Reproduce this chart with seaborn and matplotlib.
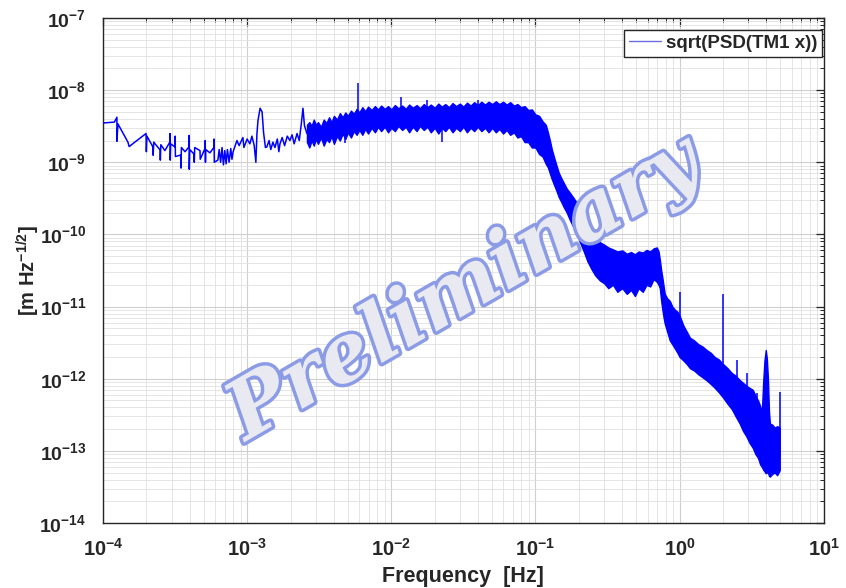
import numpy as np
import pandas as pd
import seaborn as sns
import matplotlib
matplotlib.use("Agg")
import matplotlib.pyplot as plt
from matplotlib import ticker
import matplotlib.patheffects as pe

# ---------------- data ----------------
# low-frequency part: individual noisy points (Hz, m/sqrt(Hz))
low_freq = [1.00e-4, 1.20e-4, 1.25e-4, 1.25e-4, 1.27e-4, 1.49e-4, 1.52e-4, 1.72e-4,
            1.99e-4, 2.00e-4, 2.02e-4, 2.22e-4, 2.23e-4, 2.25e-4, 2.49e-4, 2.50e-4,
            2.52e-4, 2.69e-4, 2.91e-4, 2.92e-4, 2.93e-4, 2.95e-4, 3.16e-4, 3.17e-4,
            3.18e-4, 3.47e-4, 3.48e-4, 3.50e-4, 3.71e-4, 3.95e-4, 3.96e-4, 3.97e-4,
            4.00e-4, 4.28e-4, 4.30e-4, 4.33e-4, 4.71e-4, 4.73e-4, 5.10e-4, 5.12e-4,
            5.14e-4, 5.16e-4, 5.52e-4, 5.88e-4, 5.90e-4, 5.92e-4, 6.27e-4, 6.40e-4,
            6.55e-4, 6.70e-4, 6.85e-4, 7.00e-4, 7.15e-4, 7.30e-4, 7.50e-4, 7.70e-4,
            7.85e-4, 8.00e-4, 8.50e-4, 8.80e-4, 9.35e-4, 9.50e-4, 1.00e-3, 1.045e-3,
            1.08e-3, 1.12e-3, 1.15e-3, 1.17e-3, 1.19e-3, 1.23e-3, 1.27e-3, 1.30e-3,
            1.34e-3, 1.37e-3, 1.42e-3, 1.46e-3, 1.51e-3, 1.56e-3, 1.62e-3, 1.66e-3,
            1.69e-3, 1.75e-3, 1.82e-3, 1.90e-3, 1.98e-3, 2.05e-3, 2.12e-3, 2.22e-3,
            2.30e-3, 2.38e-3, 2.44e-3, 2.50e-3, 2.60e-3]
low_asd = [3.5e-9, 3.6e-9, 4.2e-9, 1.95e-9, 3.4e-9, 1.9e-9, 1.65e-9, 2.0e-9,
           2.5e-9, 1.4e-9, 2.3e-9, 1.63e-9, 1.25e-9, 1.9e-9, 1.48e-9, 1.07e-9,
           1.75e-9, 1.45e-9, 1.9e-9, 2.5e-9, 1.07e-9, 1.8e-9, 1.63e-9, 2.3e-9,
           1.2e-9, 1.26e-9, 0.83e-9, 1.6e-9, 1.4e-9, 1.63e-9, 2.35e-9, 0.8e-9,
           1.5e-9, 1.3e-9, 1.0e-9, 1.6e-9, 1.45e-9, 1.1e-9, 1.55e-9, 2.0e-9,
           1.0e-9, 1.5e-9, 1.35e-9, 1.6e-9, 2.1e-9, 1.0e-9, 1.07e-9, 1.5e-9,
           1.0e-9, 1.6e-9, 0.92e-9, 1.45e-9, 0.95e-9, 1.5e-9, 1.0e-9, 1.55e-9,
           1.1e-9, 1.4e-9, 2.0e-9, 1.7e-9, 2.2e-9, 1.6e-9, 2.1e-9, 1.8e-9,
           2.3e-9, 1.7e-9, 1.0e-9, 2.5e-9, 3.8e-9, 5.6e-9, 5.0e-9, 2.6e-9,
           1.6e-9, 1.63e-9, 2.0e-9, 1.5e-9, 1.9e-9, 1.6e-9, 2.1e-9, 1.4e-9,
           1.8e-9, 2.2e-9, 1.7e-9, 2.3e-9, 2.0e-9, 2.4e-9, 1.8e-9, 2.5e-9,
           2.0e-9, 3.5e-9, 5.6e-9, 3.2e-9, 2.5e-9]

# dense part: lower / upper edge of the noise band
band_freq = [2.60e-3, 2.70e-3, 2.80e-3, 2.90e-3, 3.00e-3, 3.10e-3, 3.25e-3, 3.40e-3,
             3.55e-3, 3.70e-3, 3.85e-3, 4.00e-3, 4.20e-3, 4.40e-3, 4.60e-3, 4.80e-3,
             5.00e-3, 5.25e-3, 5.50e-3, 5.75e-3, 6.00e-3, 6.30e-3, 6.60e-3, 6.90e-3,
             7.30e-3, 7.70e-3, 8.10e-3, 8.50e-3, 9.00e-3, 9.50e-3, 1.00e-2, 1.06e-2,
             1.12e-2, 1.19e-2, 1.26e-2, 1.33e-2, 1.41e-2, 1.50e-2, 1.58e-2, 1.68e-2,
             1.78e-2, 1.88e-2, 2.00e-2, 2.12e-2, 2.24e-2, 2.37e-2, 2.51e-2, 2.66e-2,
             2.82e-2, 2.99e-2, 3.16e-2, 3.35e-2, 3.55e-2, 3.76e-2, 3.98e-2, 4.22e-2,
             4.47e-2, 4.73e-2, 5.01e-2, 5.31e-2, 5.62e-2, 5.96e-2, 6.31e-2, 6.68e-2,
             7.08e-2, 7.50e-2, 7.94e-2, 8.41e-2, 8.91e-2, 9.44e-2, 0.100, 0.106,
             0.112, 0.118, 0.122, 0.126, 0.130, 0.135, 0.140, 0.145,
             0.150, 0.157, 0.165, 0.173, 0.182, 0.190, 0.200, 0.215,
             0.230, 0.245, 0.260, 0.280, 0.300, 0.320, 0.345, 0.370,
             0.400, 0.430, 0.460, 0.490, 0.520, 0.555, 0.590, 0.625,
             0.660, 0.695, 0.715, 0.729, 0.745, 0.760, 0.775, 0.789,
             0.820, 0.855, 0.890, 0.930, 0.965, 1.00, 1.06, 1.12,
             1.18, 1.26, 1.35, 1.44, 1.54, 1.64, 1.75, 1.87,
             2.00, 2.15, 2.30, 2.45, 2.61, 2.75, 2.90, 3.05,
             3.22, 3.36, 3.50, 3.62, 3.72, 3.80, 3.88, 3.96,
             4.03, 4.10, 4.17, 4.23, 4.40, 4.57, 4.75, 4.95]
band_lo = [1.9e-9, 1.6e-9, 2.0e-9, 1.7e-9, 2.1e-9, 1.8e-9, 2.2e-9, 1.7e-9,
           2.1e-9, 1.9e-9, 2.3e-9, 1.8e-9, 2.3e-9, 2.0e-9, 2.5e-9, 2.1e-9,
           2.6e-9, 2.2e-9, 2.7e-9, 2.4e-9, 2.8e-9, 2.4e-9, 2.9e-9, 2.5e-9,
           3.0e-9, 2.6e-9, 3.1e-9, 2.7e-9, 3.1e-9, 2.6e-9, 3.0e-9, 2.7e-9,
           3.2e-9, 2.8e-9, 3.1e-9, 2.6e-9, 3.1e-9, 2.7e-9, 3.2e-9, 2.8e-9,
           3.1e-9, 2.6e-9, 3.0e-9, 2.5e-9, 3.0e-9, 2.7e-9, 3.1e-9, 2.6e-9,
           3.0e-9, 2.7e-9, 3.1e-9, 2.6e-9, 3.0e-9, 2.7e-9, 3.1e-9, 2.7e-9,
           3.0e-9, 2.6e-9, 3.0e-9, 2.6e-9, 2.9e-9, 2.5e-9, 2.8e-9, 2.4e-9,
           2.6e-9, 2.2e-9, 2.3e-9, 1.9e-9, 1.9e-9, 1.6e-9, 1.6e-9, 1.3e-9,
           1.2e-9, 9.5e-10, 8.5e-10, 7.0e-10, 5.8e-10, 4.8e-10, 4.0e-10, 3.3e-10,
           2.9e-10, 2.4e-10, 2.0e-10, 1.6e-10, 1.3e-10, 1.1e-10, 8.5e-11, 6.0e-11,
           4.2e-11, 3.3e-11, 2.7e-11, 2.3e-11, 2.1e-11, 1.8e-11, 2.0e-11, 1.6e-11,
           1.8e-11, 1.5e-11, 1.7e-11, 1.4e-11, 1.8e-11, 1.6e-11, 2.0e-11, 1.9e-11,
           2.4e-11, 2.2e-11, 2.0e-11, 1.8e-11, 1.2e-11, 9.0e-12, 7.0e-12, 5.8e-12,
           4.5e-12, 3.4e-12, 3.0e-12, 2.6e-12, 2.3e-12, 2.0e-12, 1.8e-12, 1.6e-12,
           1.4e-12, 1.3e-12, 1.15e-12, 1.05e-12, 9.5e-13, 8.5e-13, 7.5e-13, 6.5e-13,
           5.5e-13, 4.5e-13, 3.8e-13, 3.0e-13, 2.4e-13, 1.9e-13, 1.6e-13, 1.3e-13,
           1.1e-13, 9.0e-14, 8.0e-14, 6.5e-14, 6.0e-14, 5.5e-14, 5.2e-14, 4.9e-14,
           5.0e-14, 5.0e-14, 4.5e-14, 4.4e-14, 4.8e-14, 5.0e-14, 4.6e-14, 5.4e-14]
band_hi = [3.3e-9, 3.6e-9, 3.2e-9, 3.9e-9, 3.3e-9, 3.6e-9, 3.1e-9, 3.9e-9,
           3.5e-9, 4.2e-9, 3.6e-9, 4.4e-9, 3.9e-9, 4.8e-9, 4.2e-9, 4.9e-9,
           4.4e-9, 5.2e-9, 4.7e-9, 5.5e-9, 4.9e-9, 5.8e-9, 5.1e-9, 5.9e-9,
           5.3e-9, 6.0e-9, 5.4e-9, 6.1e-9, 5.5e-9, 6.0e-9, 5.4e-9, 6.2e-9,
           5.6e-9, 6.1e-9, 5.5e-9, 6.3e-9, 5.7e-9, 6.2e-9, 5.6e-9, 6.4e-9,
           5.8e-9, 6.3e-9, 5.7e-9, 6.5e-9, 5.9e-9, 6.4e-9, 5.8e-9, 6.6e-9,
           6.0e-9, 6.5e-9, 5.9e-9, 6.7e-9, 6.1e-9, 6.8e-9, 6.2e-9, 6.9e-9,
           6.3e-9, 6.9e-9, 6.4e-9, 7.0e-9, 6.4e-9, 6.9e-9, 6.3e-9, 6.8e-9,
           6.1e-9, 6.4e-9, 5.8e-9, 6.0e-9, 5.3e-9, 5.4e-9, 4.6e-9, 4.4e-9,
           3.7e-9, 3.3e-9, 2.6e-9, 2.0e-9, 1.5e-9, 1.15e-9, 9.0e-10, 7.2e-10,
           6.2e-10, 5.2e-10, 4.3e-10, 3.8e-10, 3.3e-10, 2.9e-10, 2.4e-10, 1.7e-10,
           1.3e-10, 1.05e-10, 9.0e-11, 7.8e-11, 7.2e-11, 6.6e-11, 6.2e-11, 5.8e-11,
           6.0e-11, 5.4e-11, 5.7e-11, 5.3e-11, 5.8e-11, 5.6e-11, 6.1e-11, 5.8e-11,
           6.4e-11, 6.6e-11, 5.8e-11, 4.5e-11, 3.2e-11, 2.5e-11, 1.9e-11, 1.5e-11,
           1.3e-11, 1.2e-11, 1.0e-11, 9.0e-12, 8.5e-12, 7.5e-12, 5.5e-12, 4.5e-12,
           3.7e-12, 3.4e-12, 3.0e-12, 2.8e-12, 2.5e-12, 2.3e-12, 2.0e-12, 1.85e-12,
           1.6e-12, 1.4e-12, 1.2e-12, 1.1e-12, 9.6e-13, 8.8e-13, 8.0e-13, 7.5e-13,
           7.0e-13, 5.8e-13, 5.0e-13, 4.2e-13, 3.4e-13, 9.0e-13, 1.8e-12, 2.5e-12,
           1.9e-12, 1.0e-12, 3.5e-13, 2.4e-13, 2.3e-13, 2.1e-13, 2.2e-13, 2.1e-13]

# narrow lines (spikes): frequency, lower end, upper end
spike_freq = [4.8e-3, 5.87e-3, 1.17e-2, 1.77e-2, 2.24e-2, 4.0e-2,
              1.0, 2.0, 2.5, 2.74, 2.92, 3.43, 4.95]
spike_bottom = [1.85e-9, 3.0e-9, 3.0e-9, 3.0e-9, 1.9e-9, 3.0e-9,
                3.0e-12, 8.0e-13, 3.0e-13, 2.0e-13, 2.0e-13, 1.5e-13, 8.0e-14]
spike_top = [3.0e-9, 1.25e-8, 8.0e-9, 7.3e-9, 3.5e-9, 7.3e-9,
             1.6e-11, 1.5e-11, 1.8e-12, 7.4e-13, 1.2e-12, 6.3e-13, 6.5e-13]

x_ticks = [1e-4, 1e-3, 1e-2, 1e-1, 1e0, 1e1]
x_tick_labels = [r'$\mathbf{10^{-4}}$', r'$\mathbf{10^{-3}}$', r'$\mathbf{10^{-2}}$',
                 r'$\mathbf{10^{-1}}$', r'$\mathbf{10^{0}}$', r'$\mathbf{10^{1}}$']
y_ticks = [1e-14, 1e-13, 1e-12, 1e-11, 1e-10, 1e-9, 1e-8, 1e-7]
y_tick_labels = [r'$\mathbf{10^{-14}}$', r'$\mathbf{10^{-13}}$', r'$\mathbf{10^{-12}}$',
                 r'$\mathbf{10^{-11}}$', r'$\mathbf{10^{-10}}$', r'$\mathbf{10^{-9}}$',
                 r'$\mathbf{10^{-8}}$', r'$\mathbf{10^{-7}}$']
series_label = 'sqrt(PSD(TM1 x))'
x_label = 'Frequency  [Hz]'
y_label = r'[m Hz$^{\mathbf{-1/2}}$]'
watermark = 'Preliminary'

# ---------------- style ----------------
sns.set_theme(style='white')
plt.rcParams.update({
    'font.family': ['Liberation Sans', 'DejaVu Sans'],
    'font.weight': 'bold',
    'mathtext.fontset': 'custom',
    'mathtext.rm': 'Liberation Sans:bold',
    'mathtext.bf': 'Liberation Sans:bold',
    'mathtext.it': 'Liberation Sans:bold',
    'mathtext.sf': 'Liberation Sans:bold',
    'axes.edgecolor': '#262626',
    'axes.linewidth': 1.0,
})

fig = plt.figure(figsize=(8.46, 5.88), dpi=100)
ax = fig.add_axes([0.1217, 0.1105, 0.852, 0.859])

blue = '#0000ff'
low_df = pd.DataFrame({'freq': low_freq, 'asd': low_asd})
sns.lineplot(data=low_df, x='freq', y='asd', sort=False, estimator=None,
             color=blue, lw=1.1, ax=ax, label=series_label, zorder=3)
ax.fill_between(band_freq, band_lo, band_hi, color=blue, edgecolor=blue,
                lw=1.0, zorder=3)
ax.vlines(spike_freq, spike_bottom, spike_top, color=blue, lw=1.1, zorder=3)

ax.set_xscale('log')
ax.set_yscale('log')
ax.set_xlim(1e-4, 1e1)
ax.set_ylim(1e-14, 1e-7)
ax.set_xticks(x_ticks)
ax.set_xticklabels(x_tick_labels, fontsize=14.5)
ax.set_yticks(y_ticks)
ax.set_yticklabels(y_tick_labels, fontsize=14)
ax.xaxis.set_minor_locator(ticker.LogLocator(base=10, subs=np.arange(2, 10), numticks=100))
ax.yaxis.set_minor_locator(ticker.LogLocator(base=10, subs=np.arange(2, 10), numticks=100))
ax.xaxis.set_minor_formatter(ticker.NullFormatter())
ax.yaxis.set_minor_formatter(ticker.NullFormatter())
ax.tick_params(which='both', direction='in', top=True, right=True, colors='#262626')
ax.tick_params(which='major', length=6, width=0.9)
ax.tick_params(axis='x', which='major', pad=11)
ax.tick_params(axis='y', which='major', pad=12)
ax.tick_params(which='minor', length=3, width=0.7)
ax.grid(True, which='major', color='#cfcfcf', lw=0.8)
ax.grid(True, which='minor', color='#e0e0e0', lw=0.6)
ax.set_axisbelow(True)

ax.set_xlabel(x_label, fontsize=15.5, fontweight='bold', labelpad=4)
ax.set_ylabel(y_label, fontsize=14.5, fontweight='bold', labelpad=-2)

leg = ax.legend(loc='upper right', bbox_to_anchor=(0.9972, 0.976), fontsize=13.5,
                frameon=True, fancybox=False, edgecolor='#262626', framealpha=1,
                borderaxespad=0.0, handlelength=1.7, handletextpad=0.25,
                borderpad=0.25)
leg.get_frame().set_linewidth(1.0)
for h in leg.get_lines():
    h.set_color('#6d6de0')
    h.set_linewidth(1.0)
for t in leg.get_texts():
    t.set_fontweight('bold')

ax.text(0.502, 0.461, watermark, transform=ax.transAxes, rotation=30,
        ha='center', va='center', fontsize=58, family='DejaVu Serif',
        style='italic', weight='bold', color='#e8e9f1', zorder=6,
        path_effects=[pe.Stroke(linewidth=5, foreground='#8c9be6'), pe.Normal()])

fig.savefig('out.png', dpi=100)
